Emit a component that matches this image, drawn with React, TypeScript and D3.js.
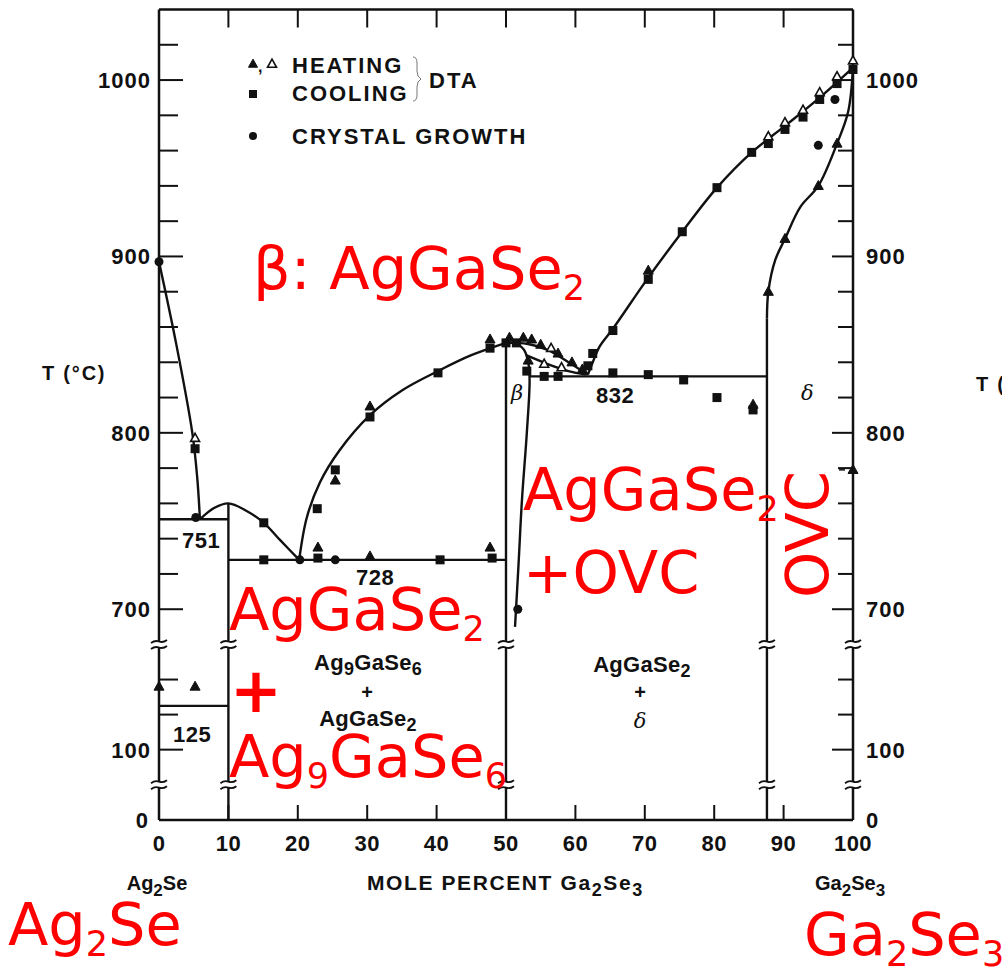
import React from "react";
import * as d3 from "d3";

// Composition ticks (mole percent Ga2Se3)
const compTicks = [0, 10, 20, 30, 40, 50, 60, 70, 80, 90, 100];
// Temperature ticks (°C) on the broken axis
const tempMajor = [100, 700, 800, 900, 1000];
const tempMinor = [120, 140, 720, 740, 760, 780, 820, 840, 860, 880, 920, 940, 960, 980, 1020];
const tempLabels = [0, 100, 700, 800, 900, 1000];
// Temperatures where the axis is broken
const breakLow = 20;
const breakHigh = 160;

// Phase boundaries [mol% Ga2Se3, T °C]
const ag2seLiquidus = [[0, 897], [2.5, 850], [4.8, 800], [5.5, 775], [5.9, 751]];
const ag9Liquidus = [[5.9, 751], [8, 757.5], [10, 760], [12.5, 756], [15.1, 749], [17.5, 739], [20.2, 728]];
const chalcLiquidus = [[20.2, 728], [21.3, 752], [23.2, 772], [26, 790], [30.4, 810], [35, 824], [40.2, 835], [45, 844], [50, 851]];
const betaRight = [[51.5, 851], [52.6, 847], [53.2, 840], [53.4, 830], [53, 800], [52.3, 762], [51.8, 725], [51.3, 690]];
const betaLiquidus = [[50, 851], [53, 850.5], [56, 847], [59, 840], [61.8, 833]];
const betaSolidus = [[52.9, 844], [56, 839], [59, 835], [61.5, 833]];
const ga2se3Liquidus = [[61.8, 833], [62.5, 840], [63.5, 849], [65.4, 859], [70.5, 888], [75.4, 914], [80.4, 939], [85.4, 959], [90.2, 974], [95.2, 990], [100, 1007]];
const deltaSolidus = [[87.6, 865], [87.8, 880], [88.8, 898], [90.2, 910], [92.4, 928], [95, 940], [97.7, 964], [99.3, 982], [100, 1007]];

// Invariant lines [from %, to %, T]
const isotherms = [[0, 10, 751], [10, 50, 728], [0, 10, 125], [53.4, 87.6, 832]];
// Vertical phase lines [%, top T]
const verticals = [[10, 760], [50, 851], [87.6, 865]];
// Lines carrying break marks
const brokenLines = [0, 10, 50, 87.6, 100];

// Measurements
const heatingFilled = [[0, 136], [5.2, 136], [22.9, 735], [25.4, 773], [30.4, 815], [30.4, 730], [47.7, 735], [47.7, 853],
  [50.5, 854], [52.5, 854], [53.7, 853], [55, 850], [53.2, 841], [57.5, 845], [59.5, 840], [61, 836], [85.6, 816],
  [70.5, 892], [87.8, 880], [90.2, 910], [95, 940], [97.7, 964], [100, 779]];
const heatingOpen = [[5.2, 797], [56.5, 848], [55.5, 839], [58, 837], [87.8, 968], [90.2, 976], [92.8, 983], [95.2, 993], [97.7, 1002], [100, 1011]];
const cooling = [[5.2, 791], [15.1, 749], [15.1, 728], [22.8, 757], [22.9, 729], [25.4, 779], [30.4, 809], [40.2, 834],
  [40.5, 728], [47.7, 848], [48, 729], [50, 851], [51.5, 851], [53, 835], [55.5, 832], [57.5, 832], [61.8, 838], [62.5, 845],
  [65.4, 858], [65.4, 834], [70.5, 833], [75.6, 830], [80.4, 820], [85.6, 813], [70.5, 887], [75.4, 914], [80.4, 939],
  [85.4, 959], [87.8, 964], [90.2, 972], [92.8, 979], [95.2, 989], [97.7, 998], [100, 1006]];
const crystalGrowth = [[0, 897], [5.3, 752], [20.3, 728], [25.4, 728], [51.7, 700], [95, 963], [97.4, 989]];

const x = d3.scaleLinear().domain([0, 100]).range([159, 853]);
const y = d3.scaleLinear()
  .domain([0, breakLow, 80, breakHigh, 680, 1040])
  .range([820, 784.7, 784.7, 644.5, 644.5, 9.5]);

const line = d3.line<number[]>().x((d) => x(d[0])).y((d) => y(d[1])).curve(d3.curveCatmullRom.alpha(0.5));

const BLK = "#111";
const SANS = "'Liberation Sans', Arial, sans-serif";
const RED_FONT = "'DejaVu Sans', sans-serif";

function Tri({ cx, cy, open, s = 10 }: { cx: number; cy: number; open?: boolean; s?: number }) {
  const h = s * 0.9;
  return (
    <path
      d={`M${cx},${cy - h * 0.6}L${cx + s / 2},${cy + h * 0.4}L${cx - s / 2},${cy + h * 0.4}Z`}
      fill={open ? "#fff" : BLK}
      stroke={BLK}
      strokeWidth={open ? 1.6 : 1}
    />
  );
}

function BreakMark({ cx, cy }: { cx: number; cy: number }) {
  const w = 8;
  const wave = (yy: number) => `M${cx - w},${yy + 1.5}q${w / 2},-3 ${w},-1.5t${w},-1.5`;
  return (
    <g>
      <rect x={cx - 3} y={cy - 3} width={6} height={6} fill="#fff" />
      <path d={wave(cy - 3)} fill="none" stroke={BLK} strokeWidth={1.8} />
      <path d={wave(cy + 3)} fill="none" stroke={BLK} strokeWidth={1.8} />
    </g>
  );
}

export default function App() {
  const yTop = y(1040);
  const yBot = y(0);
  const breakYs = [y(breakLow), y(breakHigh)];
  return (
    <svg width={1002} height={970} style={{ display: "block", position: "absolute", left: 0, top: 0 }}
      fontFamily={SANS}>
      <rect width={1002} height={970} fill="#fff" />

      {/* frame */}
      <line x1={x(0)} x2={x(100)} y1={yTop} y2={yTop} stroke={BLK} strokeWidth={2.5} />
      <line x1={x(0)} x2={x(100)} y1={yBot} y2={yBot} stroke={BLK} strokeWidth={2.5} />
      <line x1={x(0)} x2={x(0)} y1={yTop} y2={yBot} stroke={BLK} strokeWidth={2.5} />
      <line x1={x(100)} x2={x(100)} y1={yTop} y2={yBot} stroke={BLK} strokeWidth={2.5} />

      {/* composition ticks */}
      {compTicks.slice(1, -1).map((c) => (
        <g key={"ct" + c}>
          <line x1={x(c)} x2={x(c)} y1={yTop} y2={yTop + 18} stroke={BLK} strokeWidth={2} />
          <line x1={x(c)} x2={x(c)} y1={yBot} y2={yBot - 15} stroke={BLK} strokeWidth={2} />
        </g>
      ))}
      {compTicks.map((c) => (
        <text key={"cl" + c} x={x(c)} y={851} fontSize={22} fontWeight="bold" textAnchor="middle" fill={BLK} letterSpacing={0.5}>
          {c}
        </text>
      ))}

      {/* temperature ticks */}
      {tempMajor.map((t) => (
        <g key={"tM" + t}>
          <line x1={x(0)} x2={x(0) + 24} y1={y(t)} y2={y(t)} stroke={BLK} strokeWidth={2} />
          <line x1={x(100)} x2={x(100) - 21} y1={y(t)} y2={y(t)} stroke={BLK} strokeWidth={2} />
        </g>
      ))}
      {tempMinor.map((t) => (
        <g key={"tm" + t}>
          <line x1={x(0)} x2={x(0) + 19} y1={y(t)} y2={y(t)} stroke={BLK} strokeWidth={2} />
          <line x1={x(100)} x2={x(100) - 15} y1={y(t)} y2={y(t)} stroke={BLK} strokeWidth={2} />
        </g>
      ))}
      {tempLabels.map((t) => (
        <g key={"tl" + t}>
          <text x={t === 0 ? 149 : 151} y={y(t) + 8} fontSize={22} fontWeight="bold" textAnchor="end" fill={BLK} letterSpacing={1}>
            {t}
          </text>
          <text x={866} y={y(t) + 8} fontSize={22} fontWeight="bold" fill={BLK} letterSpacing={1}>
            {t}
          </text>
        </g>
      ))}
      <text x={42} y={380} fontSize={20} fontWeight="bold" fill={BLK} letterSpacing={1.8}>T (°C)</text>
      <text x={976} y={391} fontSize={20} fontWeight="bold" fill={BLK} letterSpacing={1.8}>T (°C)</text>

      {/* phase lines */}
      {verticals.map(([c, t]) => (
        <line key={"v" + c} x1={x(c)} x2={x(c)} y1={y(t)} y2={yBot} stroke={BLK} strokeWidth={2.4} />
      ))}
      {isotherms.map(([a, b, t]) => (
        <line key={"i" + t} x1={x(a)} x2={x(b)} y1={y(t)} y2={y(t)} stroke={BLK} strokeWidth={2.4} />
      ))}
      <line x1={x(50)} x2={x(51.5)} y1={y(851)} y2={y(851)} stroke={BLK} strokeWidth={2.4} />
      {[ag2seLiquidus, ag9Liquidus, chalcLiquidus, betaRight, betaLiquidus, betaSolidus, ga2se3Liquidus, deltaSolidus].map((d, i) => (
        <path key={"c" + i} d={line(d as number[][]) || ""} fill="none" stroke={BLK} strokeWidth={2.4} />
      ))}

      {/* axis breaks */}
      {brokenLines.map((c) => breakYs.map((by) => <BreakMark key={"b" + c + by} cx={x(c)} cy={by} />))}

      {/* measurements */}
      {cooling.map(([c, t], i) => (
        <rect key={"sq" + i} x={x(c) - 4.5} y={y(t) - 4.5} width={9} height={9} fill={BLK} />
      ))}
      {crystalGrowth.map(([c, t], i) => (
        <circle key={"cg" + i} cx={x(c)} cy={y(t)} r={4.5} fill={BLK} />
      ))}
      {heatingFilled.map(([c, t], i) => (
        <Tri key={"hf" + i} cx={x(c)} cy={y(t)} />
      ))}
      {heatingOpen.map(([c, t], i) => (
        <Tri key={"ho" + i} cx={x(c)} cy={y(t)} open s={9} />
      ))}
      <line x1={x(100) - 14} x2={x(100) - 8} y1={y(779)} y2={y(779)} stroke={BLK} strokeWidth={1.5} />

      {/* legend */}
      <Tri cx={253} cy={64} s={9} />
      <text x={258} y={72} fontSize={16} fontWeight="bold" fill={BLK}>,</text>
      <Tri cx={272} cy={64} s={9} open />
      <rect x={249} y={90} width={8} height={8} fill={BLK} />
      <circle cx={253} cy={136} r={4} fill={BLK} />
      <text x={292} y={73} fontSize={22} fontWeight="bold" fill={BLK} letterSpacing={2}>HEATING</text>
      <text x={292} y={101} fontSize={22} fontWeight="bold" fill={BLK} letterSpacing={2}>COOLING</text>
      <text x={292} y={144} fontSize={22} fontWeight="bold" fill={BLK} letterSpacing={2}>CRYSTAL GROWTH</text>
      <path d="M413,57 q4,0 4,6 v8 q0,6 4,8 q-4,2 -4,8 v8 q0,6 -4,6" fill="none" stroke="#777" strokeWidth={1} />
      <text x={429} y={88} fontSize={22} fontWeight="bold" fill={BLK} letterSpacing={2}>DTA</text>

      {/* in-plot labels */}
      <text x={182} y={548} fontSize={22} fontWeight="bold" fill={BLK} letterSpacing={0.5}>751</text>
      <text x={356} y={585} fontSize={22} fontWeight="bold" fill={BLK} letterSpacing={0.5}>728</text>
      <text x={173} y={742} fontSize={22} fontWeight="bold" fill={BLK} letterSpacing={0.5}>125</text>
      <text x={596} y={403} fontSize={22} fontWeight="bold" fill={BLK} letterSpacing={0.5}>832</text>
      <text x={511} y={400} fontSize={21} fontStyle="italic" fill={BLK} fontFamily="'DejaVu Serif', serif">β</text>
      <text x={801} y={400} fontSize={21} fontStyle="italic" fill={BLK} fontFamily="'DejaVu Serif', serif">δ</text>

      <text x={368} y={670} fontSize={22} fontWeight="bold" fill={BLK} textAnchor="middle" letterSpacing={0.3}>
        Ag<tspan fontSize={18} dy={5}>9</tspan><tspan dy={-5}>GaSe</tspan><tspan fontSize={18} dy={5}>6</tspan>
      </text>
      <text x={367} y={699} fontSize={20} fontWeight="bold" fill={BLK} textAnchor="middle">+</text>
      <text x={368} y={726} fontSize={22} fontWeight="bold" fill={BLK} textAnchor="middle" letterSpacing={0.3}>
        AgGaSe<tspan fontSize={18} dy={5}>2</tspan>
      </text>
      <text x={642} y={672} fontSize={22} fontWeight="bold" fill={BLK} textAnchor="middle" letterSpacing={0.3}>
        AgGaSe<tspan fontSize={18} dy={5}>2</tspan>
      </text>
      <text x={640} y={699} fontSize={20} fontWeight="bold" fill={BLK} textAnchor="middle">+</text>
      <text x={640} y={728} fontSize={21} fontStyle="italic" fill={BLK} textAnchor="middle" fontFamily="'DejaVu Serif', serif">δ</text>

      {/* axis titles */}
      <text x={157} y={890} fontSize={20} fontWeight="bold" fill={BLK} textAnchor="middle">
        Ag<tspan fontSize={17} dy={6}>2</tspan><tspan dy={-6}>Se</tspan>
      </text>
      <text x={367} y={890} fontSize={21} fontWeight="bold" fill={BLK} letterSpacing={1.6}>
        MOLE PERCENT Ga<tspan fontSize={18} dy={6}>2</tspan><tspan dy={-6}>Se</tspan><tspan fontSize={18} dy={6}>3</tspan>
      </text>
      <text x={815} y={890} fontSize={20} fontWeight="bold" fill={BLK}>
        Ga<tspan fontSize={17} dy={6}>2</tspan><tspan dy={-6}>Se</tspan><tspan fontSize={17} dy={6}>3</tspan>
      </text>

      {/* red annotations */}
      <g fill="#ff0000" fontFamily={RED_FONT} fontSize={59}>
        <text x={253} y={289}>β: AgGaSe<tspan fontSize={35} dy={11}>2</tspan></text>
        <text x={229} y={630}>AgGaSe<tspan fontSize={35} dy={11}>2</tspan></text>
        <text x={256} y={712} fontWeight="bold" fontSize={62} textAnchor="middle">+</text>
        <text x={229} y={777}>Ag<tspan fontSize={35} dy={11}>9</tspan><tspan dy={-11}>GaSe</tspan><tspan fontSize={35} dy={11}>6</tspan></text>
        <text x={523} y={510}>AgGaSe<tspan fontSize={35} dy={11}>2</tspan></text>
        <text x={523} y={593}>+OVC</text>
        <text transform="translate(828,598) rotate(-90)">OVC</text>
        <text x={8} y={945}>Ag<tspan fontSize={35} dy={11}>2</tspan><tspan dy={-11}>Se</tspan></text>
        <text x={804} y={955}>Ga<tspan fontSize={35} dy={11}>2</tspan><tspan dy={-11}>Se</tspan><tspan fontSize={35} dy={11}>3</tspan></text>
      </g>
    </svg>
  );
}
